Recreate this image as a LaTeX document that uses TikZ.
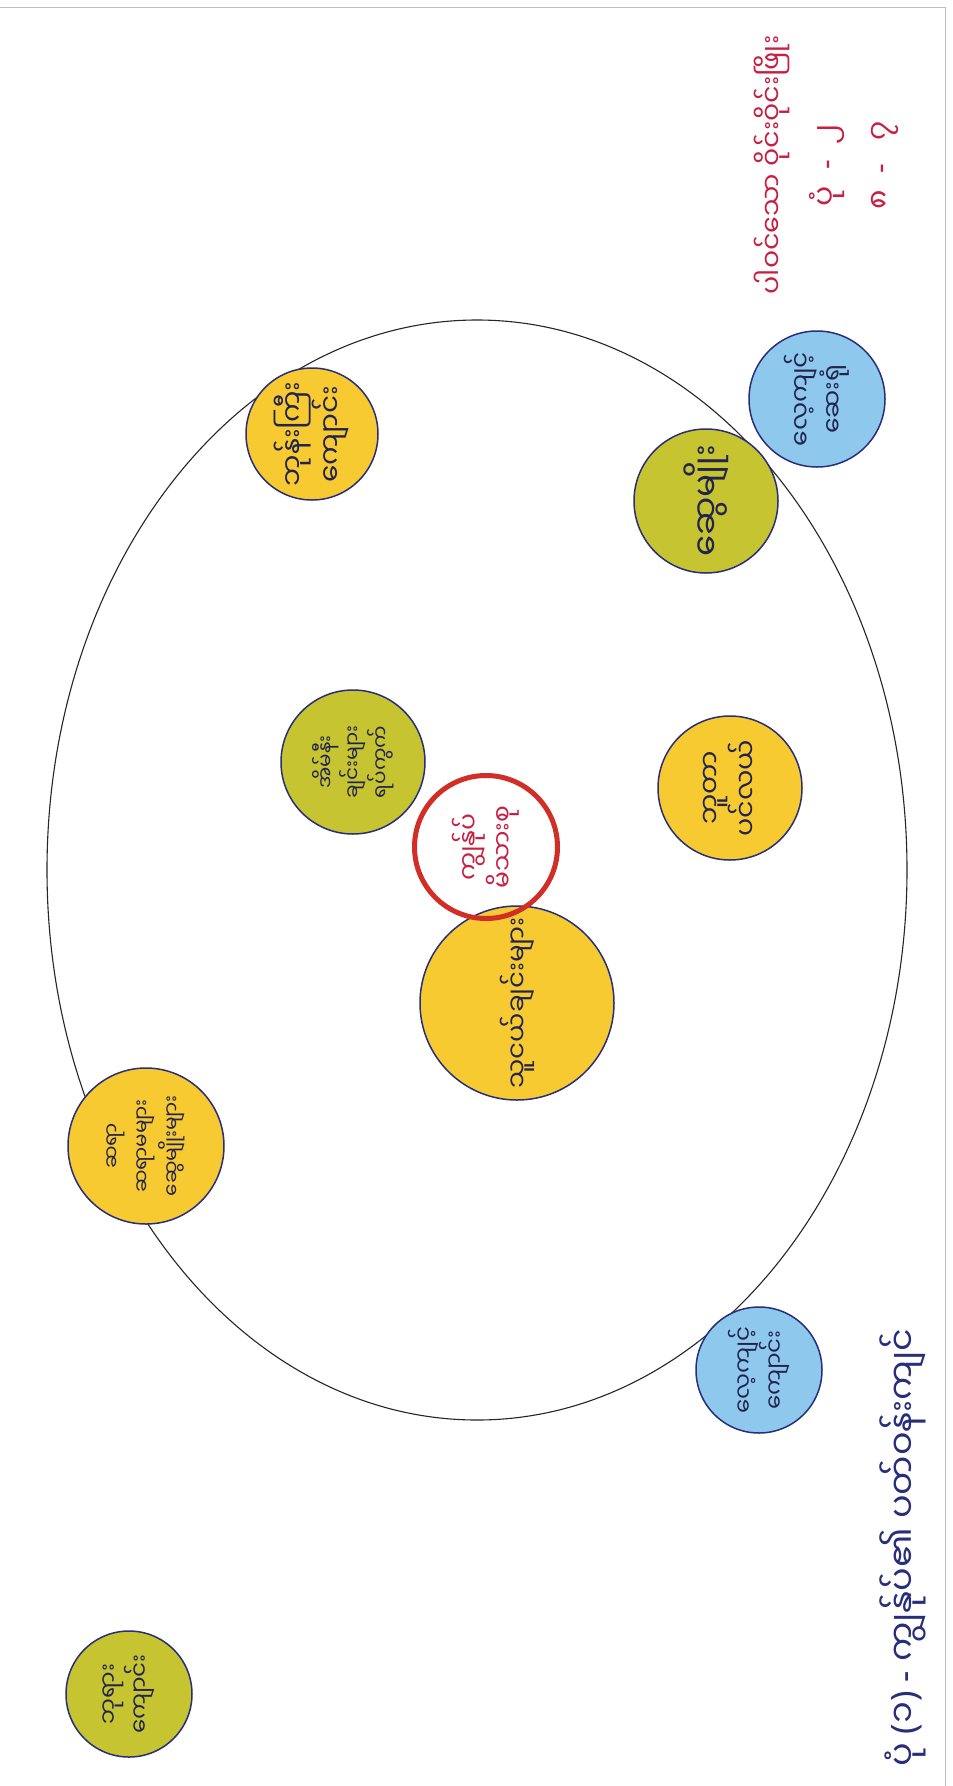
\documentclass[tikz,border=0pt]{standalone}
\usepackage{fontspec}
\newfontfamily\mya[Script=Myanmar]{Noto Sans Myanmar UI}
\newfontfamily\lat{Noto Sans}
\definecolor{navy}{RGB}{40,46,122}
\definecolor{ink}{RGB}{34,36,80}
\definecolor{yellowc}{RGB}{247,202,50}
\definecolor{greenc}{RGB}{198,196,48}
\definecolor{bluec}{RGB}{142,200,236}
\definecolor{redring}{RGB}{208,46,38}
\definecolor{redink}{RGB}{200,32,66}
\newcommand{\dsh}{{\lat\ -\ }}
\newcommand{\wdsh}{{\lat\hspace{16pt}-\hspace{16pt}}}
\newcommand{\fs}[2]{\fontsize{#1}{#2}\selectfont}
\begin{document}
\begin{tikzpicture}[x=1pt,y=-1pt]
    % A hand-coloured circle map: one big ring, coloured discs in and out of it.
    % All writing runs up the page (the sheet is turned on its side).

    \tikzset{
      ball/.style={circle, draw=navy, line width=1.5pt, inner sep=0pt, align=center,
        rotate=90, text=ink, font=\mya\fs{25}{32}},
      yel/.style={ball, fill=yellowc},
      grn/.style={ball, fill=greenc},
      blu/.style={ball, fill=bluec},
      note/.style={align=center, rotate=90, inner sep=0pt}
    }

    \fill[white] (0,0) rectangle (953,1786);
    \useasboundingbox (0,0) rectangle (953,1786);

    % --- edge of the sheet
    \draw[black!25, line width=1pt] (0,7) -- (945,7) -- (945,1786);

    % --- the big ring
    \draw[black!85, line width=1.1pt] (477,870) ellipse [x radius=430, y radius=550];

    % --- discs inside the ring
    \node[yel, minimum size=132pt, font=\mya\fs{28}{36}] (temple) at (312,434) {ဘုန်းကြီး\\ကျောင်း};
    \node[grn, minimum size=144pt, font=\mya\fs{34}{38}] (kin) at (706,501) {ဆွေမျိုး};
    \node[grn, minimum size=144pt, font=\mya\fs{20}{26}] (neighbour) at (353,762) {အိမ်နီး\\ချင်းများ\\ရပ်ကွက်};
    \node[yel, minimum size=144pt, font=\mya\fs{27}{36}] (sea) at (730,788) {ဘူတာ\\ပင်လယ်};
    \node[yel, minimum size=194pt, font=\mya\fs{26}{30}] (friends) at (517,1003) {သူငယ်ချင်းများ};
    \node[yel, minimum size=156pt, font=\mya\fs{20}{30}] (teacher) at (146,1146) {ဆရာ\\ဆရာမများ\\ဆွေမျိုးများ};

    % --- the centre, drawn last so its ring lies on top
    \node[circle, draw=redring, line width=5pt, minimum size=143pt, inner sep=0pt,
      align=center, rotate=90, text=redink, font=\mya\fs{25}{34}] (me) at (486,847) {ကျွန်ုပ်\\မိသားစု};

    % --- discs outside the ring
    \node[blu, minimum size=136pt] (clinic) at (817,399) {လေ့ကျင့်\\ဆေးရုံ};
    \node[blu, minimum size=126pt, font=\mya\fs{23}{29}] (school) at (759,1370) {လေ့ကျင့်\\ကျောင်း};
    \node[grn, minimum size=126pt, font=\mya\fs{23}{30}] (pagoda) at (129,1694) {ဘုရား\\ကျောင်း};

    % --- red notes, top corner
    \node[note, text=redink, font=\mya\fs{27}{54}] (name) at (826,165)
      {ပါဝင်သော ဝိုင်းဝိုင်းဖြိုး\\{\fs{30}{54}ပုံ\wdsh ၂}\\{\fs{30}{54}၈\wdsh\hspace{8pt}၇}};

    % --- title
    \node[note, text=navy, font=\mya\fs{35}{40}] (title) at (903,1548)
      {ပုံ{\lat\ (}၁{\lat)}\dsh ကျွန်ုပ်၏ ပတ်ဝန်းကျင်};
\end{tikzpicture}
\end{document}
